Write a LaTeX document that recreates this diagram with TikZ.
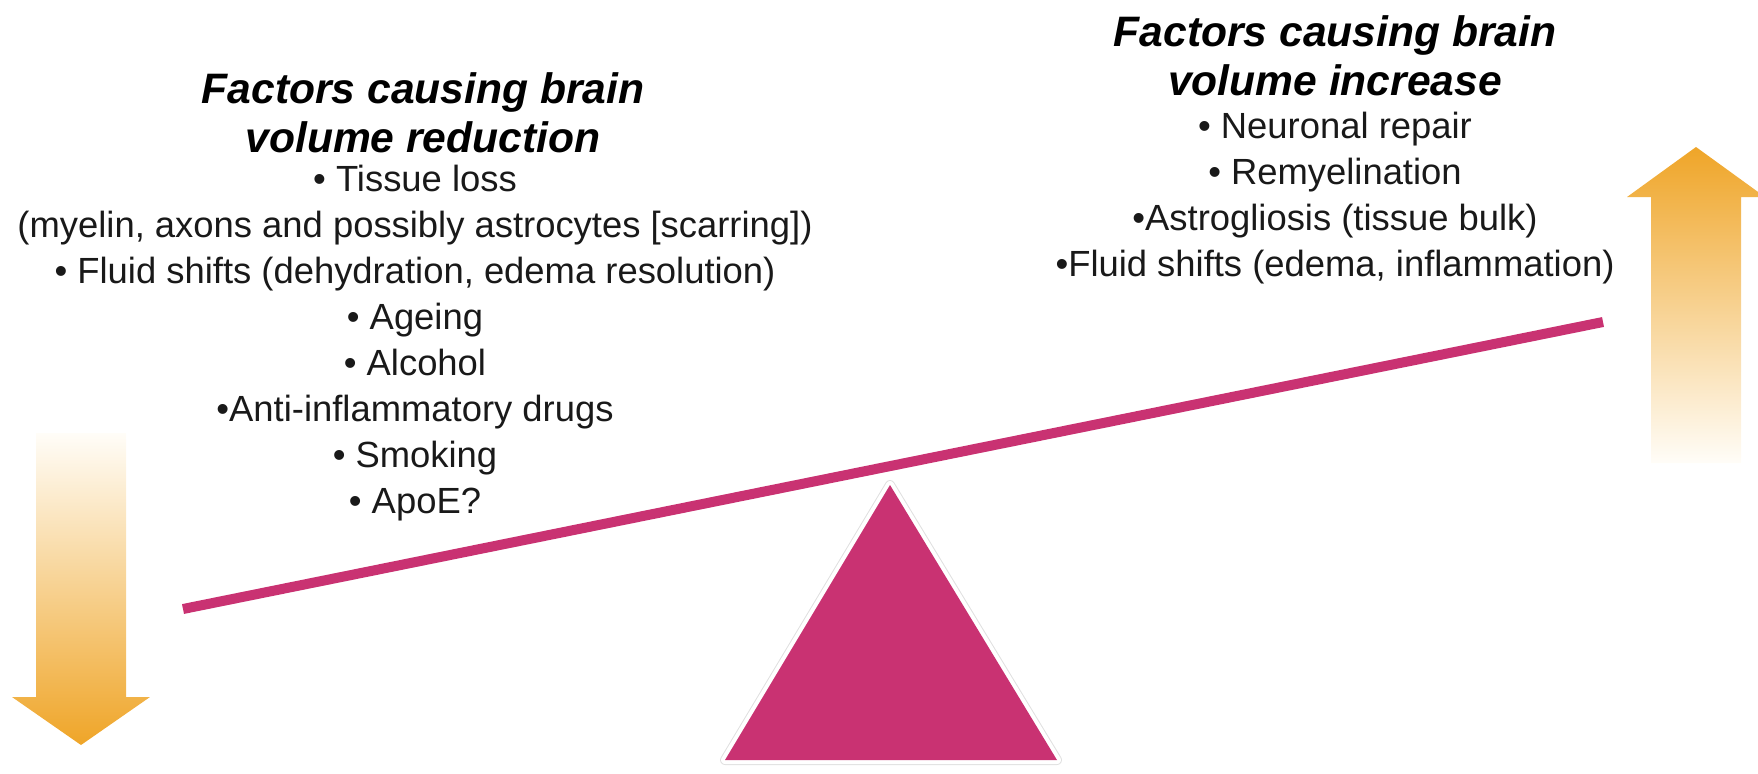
\documentclass[tikz,border=0pt]{standalone}
\usepackage{fontspec}
\setmainfont{Liberation Sans}
\usetikzlibrary{positioning}
\definecolor{seesaw}{RGB}{201,50,114}
\definecolor{arrowdark}{RGB}{239,165,40}
\definecolor{arrowlight}{RGB}{255,253,248}

\begin{document}
\begin{tikzpicture}[x=0.5pt,y=-0.5pt,node distance=6pt]
\tikzstyle{heading}=[align=center,font=\fontsize{21.3}{24.5}\selectfont\bfseries\itshape,inner sep=0pt]
\tikzstyle{factors}=[align=center,font=\fontsize{18.2}{23}\selectfont,text=black!90,inner sep=0pt]
  \useasboundingbox (0,0) rectangle (1758,773);
  % arrows at both ends of the beam
  \shade[top color=arrowlight,bottom color=arrowdark](36,433)--(126,433)--(126,697)--(150,697)
    --(81,745)--(12,697)--(36,697)--cycle;
  \shade[top color=arrowdark,bottom color=arrowlight](1651,463)--(1741,463)--(1741,197)--(1765,197)
    --(1696,147)--(1627,197)--(1651,197)--cycle;
  % fulcrum
  \coordinate (apex) at (890,485);
  \coordinate (base-l) at (725,760);
  \coordinate (base-r) at (1057,760);
  \begin{scope}[shift={(2,3)}]
    \draw[black!12,line width=5pt,line join=round](apex)--(base-l)--(base-r)--cycle;
  \end{scope}
  \draw[white,line width=4pt,line join=round](apex)--(base-l)--(base-r)--cycle;
  \fill[seesaw](apex)--(base-l)--(base-r)--cycle;
  % beam
  \coordinate (beam-l) at (183,609);
  \coordinate (beam-r) at (1603,322);
  \draw[seesaw,line width=5pt](beam-l)--(beam-r);
  % left side
  \node[heading,anchor=north](red-title) at (423,72){Factors causing brain\\volume reduction};
  \node[factors,below=6pt of red-title,xshift=-4pt](red-list){%
    \textbullet{} Tissue loss\\
    (myelin, axons and possibly astrocytes [scarring])\\
    \textbullet{} Fluid shifts (dehydration, edema resolution)\\
    \textbullet{} Ageing\\
    \textbullet{} Alcohol\\
    \textbullet{}Anti-inflammatory drugs\\
    \textbullet{} Smoking\\
    \textbullet{} ApoE?};
  % right side
  \node[heading,anchor=north](inc-title) at (1335,15){Factors causing brain\\volume increase};
  \node[factors,below=8pt of inc-title](inc-list){%
    \textbullet{} Neuronal repair\\
    \textbullet{} Remyelination\\
    \textbullet{}Astrogliosis (tissue bulk)\\
    \textbullet{}Fluid shifts (edema, inflammation)};
\end{tikzpicture}
\end{document}
